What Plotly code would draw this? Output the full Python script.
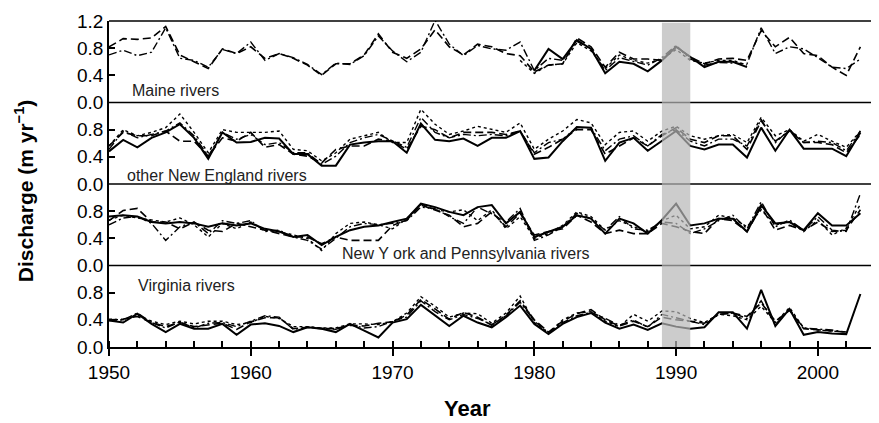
"""
Annual river discharge in four regions, 1950-2003, stacked panels.
"""

import plotly.graph_objects as go
from plotly.subplots import make_subplots

YEARS = list(range(1950, 2004))

# Maine rivers (m yr-1); solid and short-dash records only cover part of the period
MAINE_SOLID = [None] * 30 + [
    0.47, 0.79, 0.64, 0.92, 0.79, 0.43, 0.60, 0.57, 0.46, 0.62,
    0.82, 0.67, 0.52, 0.60, 0.60, 0.52,
] + [None] * 8
MAINE_DASH = [
    0.82, 0.94, 0.93, 0.95, 1.12, 0.70, 0.60, 0.50, 0.79, 0.72,
    0.82, 0.65, 0.72, 0.65, 0.55, 0.40, 0.57, 0.57, 0.70, 1.01,
    0.74, 0.65, 0.79, 1.07, 0.82, 0.70, 0.86, 0.82, 0.72, 0.69,
    0.45, 0.55, 0.57, 0.95, 0.82, 0.52, 0.74, 0.64, 0.64, 0.62,
    0.82, 0.67, 0.57, 0.64, 0.65, 0.62, 1.06, 0.82, 0.96, 0.72,
    0.69, 0.52, 0.40, 0.82,
]
MAINE_DOT = [None] * 29 + [
    0.62, 0.43, 0.55, 0.57, 0.88, 0.76, 0.50, 0.70, 0.62, 0.58,
    0.64, 0.78, 0.62, 0.58, 0.62, 0.62, 0.55,
] + [None] * 8
MAINE_DASHDOT = [
    0.70, 0.77, 0.69, 0.74, 1.10, 0.65, 0.62, 0.52, 0.78, 0.72,
    0.89, 0.62, 0.72, 0.66, 0.56, 0.41, 0.58, 0.56, 0.69, 0.98,
    0.76, 0.60, 0.74, 1.21, 0.86, 0.69, 0.84, 0.79, 0.77, 0.89,
    0.47, 0.65, 0.62, 0.90, 0.79, 0.47, 0.66, 0.60, 0.55, 0.66,
    0.84, 0.64, 0.55, 0.59, 0.58, 0.57, 1.10, 0.72, 0.82, 0.79,
    0.66, 0.52, 0.50, 0.64,
]

# other New England rivers
NE_SOLID = [
    0.48, 0.65, 0.54, 0.68, 0.76, 0.88, 0.68, 0.37, 0.76, 0.61,
    0.62, 0.68, 0.67, 0.44, 0.44, 0.27, 0.27, 0.58, 0.61, 0.63,
    0.63, 0.46, 0.89, 0.65, 0.63, 0.67, 0.56, 0.68, 0.68, 0.78,
    0.37, 0.39, 0.63, 0.84, 0.83, 0.34, 0.61, 0.68, 0.49, 0.63,
    0.78, 0.56, 0.51, 0.58, 0.58, 0.39, 0.83, 0.49, 0.80, 0.52,
    0.52, 0.52, 0.41, 0.76,
]
NE_DASH = [
    0.56, 0.76, 0.71, 0.71, 0.78, 0.63, 0.63, 0.41, 0.68, 0.63,
    0.76, 0.54, 0.58, 0.44, 0.41, 0.31, 0.51, 0.56, 0.56, 0.66,
    0.63, 0.51, 0.85, 0.80, 0.68, 0.76, 0.76, 0.76, 0.73, 0.78,
    0.44, 0.54, 0.66, 0.80, 0.80, 0.44, 0.56, 0.68, 0.56, 0.71,
    0.83, 0.66, 0.61, 0.71, 0.71, 0.51, 0.93, 0.63, 0.78, 0.61,
    0.61, 0.58, 0.46, 0.73,
]
NE_DOT = [
    0.56, 0.80, 0.71, 0.76, 0.83, 1.03, 0.76, 0.46, 0.80, 0.76,
    0.76, 0.76, 0.78, 0.51, 0.49, 0.34, 0.46, 0.66, 0.71, 0.76,
    0.61, 0.61, 1.10, 0.88, 0.73, 0.78, 0.85, 0.80, 0.76, 0.90,
    0.51, 0.66, 0.78, 0.95, 0.90, 0.58, 0.76, 0.78, 0.63, 0.78,
    0.85, 0.71, 0.66, 0.71, 0.73, 0.61, 0.98, 0.71, 0.80, 0.63,
    0.73, 0.63, 0.54, 0.78,
]
NE_DASHDOT = [
    0.51, 0.78, 0.68, 0.73, 0.78, 0.90, 0.71, 0.41, 0.76, 0.66,
    0.73, 0.58, 0.61, 0.46, 0.46, 0.29, 0.41, 0.61, 0.68, 0.73,
    0.63, 0.54, 0.98, 0.76, 0.68, 0.73, 0.71, 0.73, 0.71, 0.78,
    0.46, 0.61, 0.66, 0.83, 0.83, 0.49, 0.66, 0.71, 0.56, 0.73,
    0.80, 0.63, 0.56, 0.66, 0.66, 0.56, 0.95, 0.61, 0.80, 0.61,
    0.63, 0.61, 0.49, 0.78,
]

# New York and Pennsylvania rivers
NY_SOLID = [
    0.72, 0.74, 0.72, 0.64, 0.62, 0.64, 0.62, 0.57, 0.62, 0.59,
    0.62, 0.54, 0.50, 0.42, 0.45, 0.30, 0.42, 0.52, 0.57, 0.59,
    0.64, 0.69, 0.91, 0.86, 0.79, 0.74, 0.86, 0.89, 0.62, 0.79,
    0.42, 0.50, 0.57, 0.74, 0.69, 0.47, 0.69, 0.62, 0.47, 0.67,
    0.91, 0.59, 0.62, 0.69, 0.69, 0.50, 0.89, 0.62, 0.64, 0.52,
    0.77, 0.59, 0.59, 0.77,
]
NY_DASH = [
    0.66, 0.81, 0.84, 0.64, 0.64, 0.54, 0.64, 0.52, 0.50, 0.62,
    0.57, 0.52, 0.47, 0.42, 0.42, 0.32, 0.42, 0.37, 0.37, 0.37,
    0.59, 0.67, 0.89, 0.81, 0.74, 0.57, 0.62, 0.79, 0.57, 0.77,
    0.45, 0.50, 0.54, 0.74, 0.64, 0.47, 0.52, 0.47, 0.47, 0.62,
    0.57, 0.50, 0.47, 0.69, 0.66, 0.50, 0.86, 0.52, 0.59, 0.52,
    0.64, 0.50, 0.52, 0.82,
]
NY_DOT = [
    0.67, 0.74, 0.70, 0.67, 0.64, 0.70, 0.60, 0.42, 0.62, 0.54,
    0.64, 0.52, 0.50, 0.45, 0.40, 0.22, 0.47, 0.62, 0.64, 0.60,
    0.54, 0.69, 0.90, 0.82, 0.79, 0.82, 0.66, 0.82, 0.54, 0.72,
    0.40, 0.47, 0.59, 0.79, 0.72, 0.52, 0.66, 0.57, 0.50, 0.66,
    0.74, 0.54, 0.57, 0.74, 0.70, 0.57, 0.82, 0.60, 0.64, 0.50,
    0.67, 0.45, 0.55, 0.90,
]
NY_DASHDOT = [
    0.60, 0.70, 0.72, 0.62, 0.37, 0.57, 0.64, 0.47, 0.66, 0.62,
    0.66, 0.50, 0.52, 0.42, 0.37, 0.24, 0.40, 0.57, 0.62, 0.60,
    0.62, 0.66, 0.86, 0.84, 0.72, 0.62, 0.86, 0.76, 0.64, 0.84,
    0.37, 0.45, 0.57, 0.77, 0.69, 0.52, 0.72, 0.54, 0.52, 0.64,
    0.62, 0.47, 0.54, 0.66, 0.74, 0.54, 0.94, 0.57, 0.67, 0.52,
    0.72, 0.52, 0.50, 1.06,
]

# Virginia rivers
VA_SOLID = [
    0.39, 0.36, 0.49, 0.34, 0.22, 0.34, 0.27, 0.27, 0.34, 0.18,
    0.33, 0.35, 0.31, 0.22, 0.29, 0.27, 0.22, 0.34, 0.24, 0.14,
    0.36, 0.41, 0.62, 0.46, 0.31, 0.46, 0.36, 0.29, 0.44, 0.61,
    0.34, 0.19, 0.34, 0.44, 0.50, 0.36, 0.27, 0.33, 0.25, 0.35,
    0.30, 0.27, 0.29, 0.51, 0.51, 0.27, 0.84, 0.31, 0.56, 0.18,
    0.22, 0.20, 0.19, 0.78,
]
VA_DASH = [
    0.40, 0.41, 0.45, 0.36, 0.30, 0.36, 0.30, 0.32, 0.35, 0.26,
    0.37, 0.43, 0.43, 0.27, 0.29, 0.27, 0.27, 0.32, 0.31, 0.35,
    0.37, 0.47, 0.70, 0.56, 0.41, 0.51, 0.44, 0.32, 0.47, 0.68,
    0.40, 0.22, 0.38, 0.49, 0.55, 0.40, 0.31, 0.38, 0.30, 0.44,
    0.40, 0.38, 0.35, 0.48, 0.50, 0.45, 0.65, 0.38, 0.54, 0.27,
    0.25, 0.23, 0.22, None,
]
VA_DOT = [
    0.41, 0.40, 0.47, 0.38, 0.33, 0.38, 0.34, 0.38, 0.38, 0.33,
    0.36, 0.45, 0.42, 0.30, 0.30, 0.28, 0.28, 0.34, 0.34, 0.33,
    0.37, 0.50, 0.74, 0.60, 0.44, 0.50, 0.49, 0.35, 0.50, 0.75,
    0.36, 0.20, 0.40, 0.50, 0.52, 0.38, 0.30, 0.48, 0.38, 0.53,
    0.52, 0.42, 0.36, 0.48, 0.46, 0.40, 0.60, 0.36, 0.58, 0.28,
    0.25, 0.24, 0.22, None,
]
VA_DASHDOT = [
    0.39, 0.40, 0.50, 0.36, 0.28, 0.37, 0.28, 0.35, 0.36, 0.30,
    0.38, 0.46, 0.44, 0.26, 0.29, 0.28, 0.26, 0.33, 0.28, 0.30,
    0.38, 0.44, 0.68, 0.52, 0.40, 0.48, 0.42, 0.33, 0.46, 0.66,
    0.38, 0.21, 0.36, 0.46, 0.51, 0.42, 0.32, 0.40, 0.29, 0.48,
    0.43, 0.38, 0.33, 0.48, 0.50, 0.42, 0.68, 0.33, 0.55, 0.28,
    0.27, 0.25, 0.22, None,
]

PANEL_LABELS = [
    "Maine rivers",
    "other New England rivers",
    "New Y ork and Pennsylvania rivers",
    "Virginia rivers",
]
PANEL_SERIES = [
    [MAINE_DASH, MAINE_DOT, MAINE_DASHDOT, MAINE_SOLID],
    [NE_DASH, NE_DOT, NE_DASHDOT, NE_SOLID],
    [NY_DASH, NY_DOT, NY_DASHDOT, NY_SOLID],
    [VA_DASH, VA_DOT, VA_DASHDOT, VA_SOLID],
]
SHADED_YEARS = [1989, 1991]
DECADES = [1950, 1960, 1970, 1980, 1990, 2000]

# line styles in the same order as PANEL_SERIES entries
STYLES = [
    {"dash": "8px,4px", "width": 1.6},
    {"dash": "3px,3px", "width": 1.4},
    {"dash": "8px,3px,2px,3px", "width": 1.4},
    {"dash": "solid", "width": 2.0},
]
# label positions (year, value) inside each panel
LABEL_POS = [(1951.5, 0.18), (1951.1, 0.12), (1966.3, 0.17), (1951.9, 0.90)]

FONT = "Liberation Sans, Arial, sans-serif"

fig = make_subplots(rows=4, cols=1, shared_xaxes=True, vertical_spacing=0)

for row, series_list in enumerate(PANEL_SERIES, start=1):
    for values, style in zip(series_list, STYLES):
        fig.add_trace(
            go.Scatter(
                x=YEARS,
                y=values,
                mode="lines",
                line={"color": "black", "width": style["width"], "dash": style["dash"]},
                connectgaps=False,
                showlegend=False,
                hoverinfo="skip",
            ),
            row=row,
            col=1,
        )
    tickvals = [0, 0.4, 0.8, 1.2] if row == 1 else [0, 0.4, 0.8]
    fig.update_yaxes(
        range=[0, 1.2],
        tickvals=tickvals,
        ticktext=[f"{v:.1f}" for v in tickvals],
        ticks="inside",
        ticklen=6,
        tickwidth=1.5,
        tickcolor="black",
        ticklabeloverflow="allow",
        showline=True,
        linecolor="black",
        linewidth=1.5,
        showgrid=False,
        zeroline=False,
        tickfont={"size": 19, "color": "black", "family": FONT},
        row=row,
        col=1,
    )
    label_x, label_y = LABEL_POS[row - 1]
    fig.add_annotation(
        x=label_x, y=label_y, text=PANEL_LABELS[row - 1],
        xref="x" if row == 1 else f"x{row}",
        yref="y" if row == 1 else f"y{row}",
        showarrow=False, xanchor="left", yanchor="middle",
        font={"size": 16, "color": "#222222", "family": FONT},
    )

# top border and panel baselines across the whole width (row domains are quarters)
for level in [1.0, 0.75, 0.5, 0.25]:
    fig.add_shape(
        type="line", xref="paper", yref="paper", x0=0, x1=1, y0=level, y1=level,
        line={"color": "black", "width": 1.5},
    )

fig.update_xaxes(range=[1950, 2004.1], showgrid=False, zeroline=False)
fig.update_xaxes(
    showline=True,
    linecolor="black",
    linewidth=1.5,
    tickvals=DECADES,
    ticks="outside",
    ticklen=7,
    tickwidth=1.5,
    tickcolor="black",
    ticklabelstandoff=0,
    minor={"ticks": "inside", "dtick": 2, "tick0": 1950, "ticklen": 6,
           "tickwidth": 1.5, "tickcolor": "black"},
    tickfont={"size": 19, "color": "black", "family": FONT},
    row=4,
    col=1,
)

# shaded period
fig.add_shape(
    type="rect", xref="x", yref="paper",
    x0=SHADED_YEARS[0], x1=SHADED_YEARS[1], y0=0, y1=0.995,
    fillcolor="rgba(183, 183, 183, 0.7)", line={"width": 0}, layer="above",
)

fig.add_annotation(
    x=0.468, y=-0.19, xref="paper", yref="paper", text="<b>Year</b>",
    showarrow=False, xanchor="center", yanchor="middle",
    font={"size": 22, "color": "black", "family": FONT},
)
fig.add_annotation(
    x=-0.11, y=0.477, xref="paper", yref="paper",
    text="<b>Discharge (m yr<sup>−1</sup>)</b>", textangle=-90,
    showarrow=False, xanchor="center", yanchor="middle",
    font={"size": 21, "color": "black", "family": FONT},
)

# the page body adds an 8px offset, so the figure is 8px smaller than the window
fig.update_layout(
    width=871,
    height=415,
    margin={"l": 101, "r": 3, "t": 10, "b": 76},
    plot_bgcolor="white",
    paper_bgcolor="white",
    showlegend=False,
)

fig.write_html("out.html")
